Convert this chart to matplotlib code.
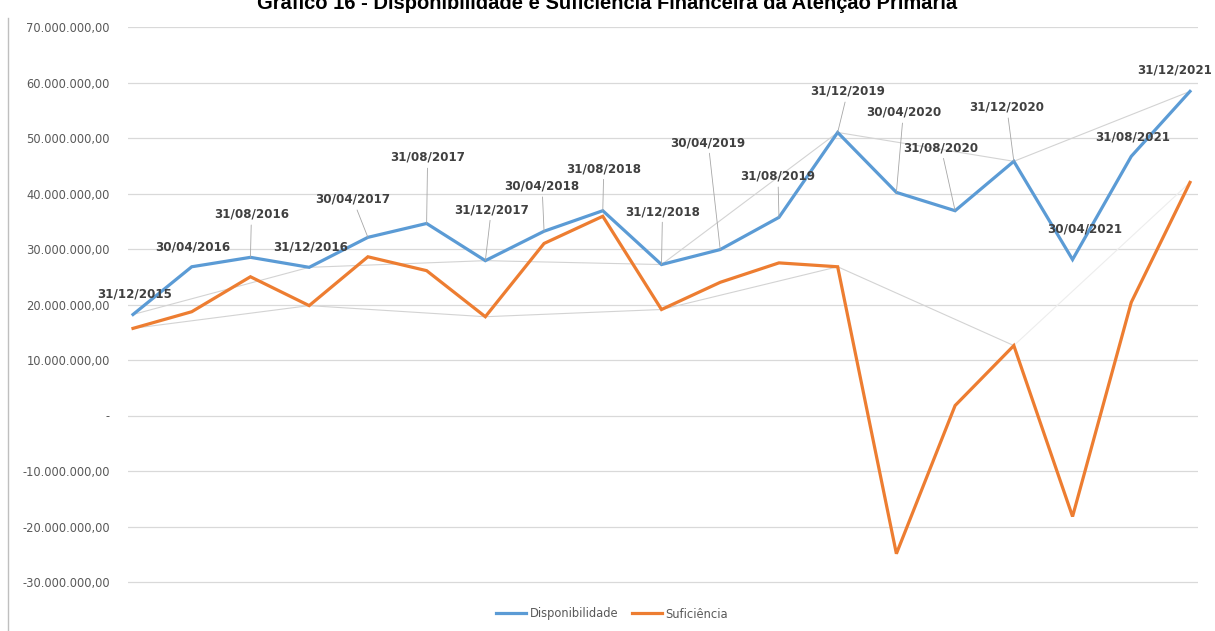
import matplotlib.pyplot as plt
from matplotlib.lines import Line2D
from matplotlib.ticker import FuncFormatter

# ---- data (R$) ----
dates = [
    "31/12/2015", "30/04/2016", "31/08/2016", "31/12/2016", "30/04/2017",
    "31/08/2017", "31/12/2017", "30/04/2018", "31/08/2018", "31/12/2018",
    "30/04/2019", "31/08/2019", "31/12/2019", "30/04/2020", "31/08/2020",
    "31/12/2020", "30/04/2021", "31/08/2021", "31/12/2021",
]
disponibilidade = [
    18.2e6, 26.8e6, 28.5e6, 26.7e6, 32.1e6, 34.6e6, 27.9e6, 33.2e6, 36.9e6,
    27.2e6, 29.9e6, 35.7e6, 51.0e6, 40.2e6, 36.9e6, 45.8e6, 28.1e6, 46.7e6,
    58.4e6,
]
suficiencia = [
    15.7e6, 18.7e6, 25.0e6, 19.8e6, 28.6e6, 26.1e6, 17.8e6, 31.0e6, 35.9e6,
    19.1e6, 24.0e6, 27.5e6, 26.8e6, -24.9e6, 1.8e6, 12.6e6, -18.2e6, 20.4e6,
    42.0e6,
]
yticks = [-30e6, -20e6, -10e6, 0, 10e6, 20e6, 30e6, 40e6, 50e6, 60e6, 70e6]

# label placement (pixel offsets from the blue point) and whether a leader line is drawn
label_dx = [2, 1, 1, 1, -15, 1, 6, -2, 1, 1, -12, -1, 10, 7, -14, -7, 12, 1, -15]
label_dy = [21, 20, 43, 20, 38, 66, 51, 45, 42, 53, 107, 41, 41, 80, 63, 54, 31, 19, 21]
leader = [False, False, True, False, True, True, True, True, True, True,
          True, True, True, True, True, True, False, False, False]

BLUE = "#5B9BD5"
ORANGE = "#ED7D31"
GRID = "#D9D9D9"
TEXT = "#404040"


def br_money(v, _pos=None):
    if abs(v) < 1:
        return "-"
    s = f"{abs(v):,.2f}".replace(",", "X").replace(".", ",").replace("X", ".")
    return ("-" if v < 0 else "") + s


fig = plt.figure(figsize=(12.15, 6.31), dpi=100)
# y range padded by 0.5M below so the -30M gridline is not clipped
ax = fig.add_axes([128 / 1215, 46.2 / 631, 1070 / 1215, 557.8 / 631])

x = list(range(len(dates)))

# faint year-end connectors (every December point)
dec = [i for i, d in enumerate(dates) if d.startswith("31/12")]
ax.plot(dec, [disponibilidade[i] for i in dec], color="#D3D3D3", lw=0.8, zorder=1)
ax.plot(dec[:-1], [suficiencia[i] for i in dec[:-1]], color="#D3D3D3", lw=0.8, zorder=1)
ax.plot(dec[-2:], [suficiencia[i] for i in dec[-2:]], color="#EDEDED", lw=0.8, zorder=1)

ax.plot(x, disponibilidade, color=BLUE, lw=2.3, label="Disponibilidade", zorder=3,
        solid_joinstyle="miter")
ax.plot(x, suficiencia, color=ORANGE, lw=2.3, label="Suficiência", zorder=3,
        solid_joinstyle="miter")

for i, d in enumerate(dates):
    kw = {}
    if leader[i]:
        kw["arrowprops"] = dict(arrowstyle="-", color="#A6A6A6", lw=0.6,
                                shrinkA=1, shrinkB=0)
    ax.annotate(d, xy=(i, disponibilidade[i]), xytext=(label_dx[i], label_dy[i]),
                textcoords="offset pixels", ha="center", va="center",
                fontsize=8.6, fontweight="bold", color=TEXT, zorder=4, **kw)

ax.set_xlim(-5 / 58.72, 18 + 8 / 58.72)
ax.set_ylim(-30.5e6, 70e6)
ax.set_yticks(yticks)
ax.yaxis.set_major_formatter(FuncFormatter(br_money))
ax.set_xticks([])
ax.tick_params(axis="y", length=0, pad=13, labelsize=8.3, labelcolor="#595959")
ax.grid(axis="y", color=GRID, lw=0.9)
ax.set_axisbelow(True)
for s in ax.spines.values():
    s.set_visible(False)

fig.legend(handles=ax.get_lines()[3:], labels=["Disponibilidade", "Suficiência"],
           loc="center", bbox_to_anchor=(612 / 1215, 1 - 614 / 631), ncol=2,
           frameon=False, fontsize=8.3, labelcolor="#595959", handlelength=2.6,
           columnspacing=1.2, handletextpad=0.3)

fig.add_artist(Line2D([8 / 1215, 8 / 1215], [0, 1 - 18 / 631],
                      transform=fig.transFigure, color="#BFBFBF", lw=1))

fig.text(0.5, 1 - 9 / 631,
         "Gráfico 16 - Disponibilidade e Suficiência Financeira da Atenção Primária",
         ha="center", va="baseline", fontsize=14.5, fontweight="bold",
         family="Liberation Sans", color="black")

fig.savefig("out.png", dpi=100)
